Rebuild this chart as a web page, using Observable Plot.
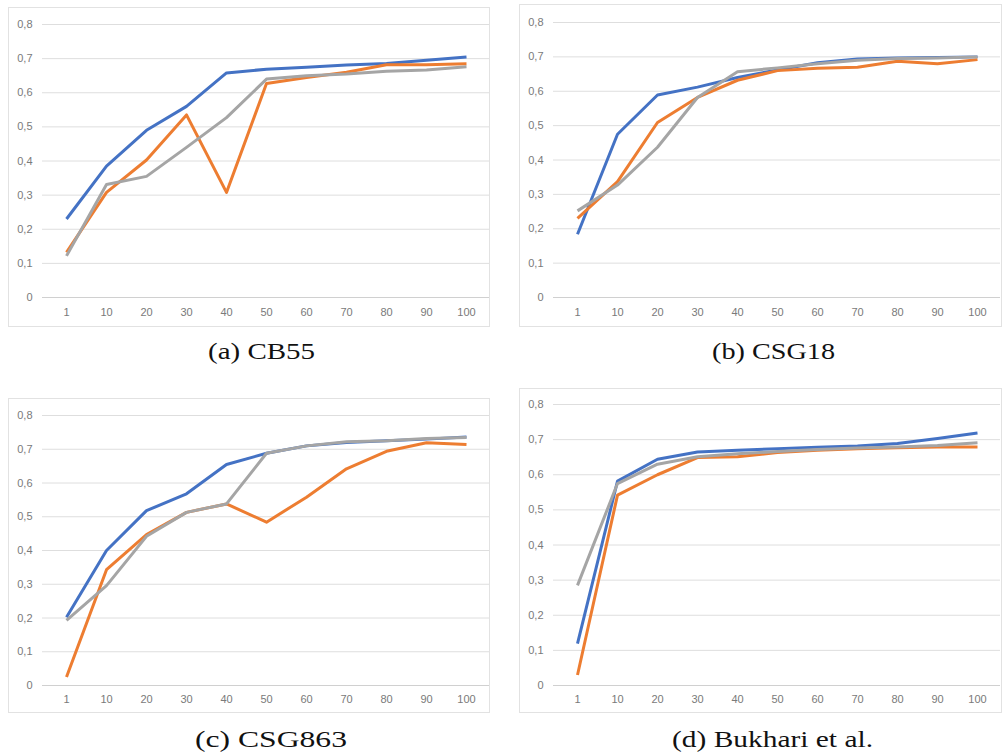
<!DOCTYPE html>
<html>
<head>
<meta charset="utf-8">
<script src="https://cdn.jsdelivr.net/npm/d3@7"></script>
<script src="https://cdn.jsdelivr.net/npm/@observablehq/plot@0.6"></script>
<style>
  html, body { margin: 0; padding: 0; background: #fff; }
  #root { position: relative; width: 1003px; height: 756px; overflow: hidden; background: #fff; }
  .frame { position: absolute; box-sizing: border-box; border: 1px solid #e2e2e2; pointer-events: none; }
  .panel { position: absolute; }
  .cap { position: absolute; font-family: "Liberation Serif", "Times New Roman", serif; font-size: 24px; line-height: 24px; color: #111; white-space: nowrap; transform-origin: 0 0; }
</style>
</head>
<body>
<div id="root"></div>
<script>
// ---------- data ----------
const categories = ["1", "10", "20", "30", "40", "50", "60", "70", "80", "90", "100"];
const yTicks = [0, 0.1, 0.2, 0.3, 0.4, 0.5, 0.6, 0.7, 0.8];
const seriesNames = ["series1", "series2", "series3"];
const seriesColors = ["#4472C4", "#ED7D31", "#A5A5A5"];

// (a) CB55
const cb55Series1 = [0.230, 0.385, 0.490, 0.560, 0.658, 0.669, 0.675, 0.681, 0.686, 0.695, 0.705];
const cb55Series2 = [0.132, 0.308, 0.403, 0.535, 0.308, 0.627, 0.645, 0.660, 0.682, 0.682, 0.685];
const cb55Series3 = [0.122, 0.331, 0.355, 0.440, 0.527, 0.640, 0.650, 0.655, 0.663, 0.667, 0.676];

// (b) CSG18
const csg18Series1 = [0.184, 0.475, 0.589, 0.612, 0.640, 0.662, 0.683, 0.694, 0.697, 0.698, 0.700];
const csg18Series2 = [0.230, 0.337, 0.509, 0.582, 0.632, 0.660, 0.667, 0.670, 0.687, 0.680, 0.692];
const csg18Series3 = [0.252, 0.327, 0.437, 0.582, 0.657, 0.668, 0.680, 0.690, 0.695, 0.697, 0.700];

// (c) CSG863
const csg863Series1 = [0.202, 0.400, 0.518, 0.568, 0.655, 0.688, 0.710, 0.720, 0.725, 0.730, 0.736];
const csg863Series2 = [0.025, 0.343, 0.447, 0.513, 0.538, 0.484, 0.558, 0.642, 0.694, 0.719, 0.714];
const csg863Series3 = [0.193, 0.296, 0.442, 0.513, 0.538, 0.688, 0.710, 0.722, 0.725, 0.732, 0.735];

// (d) Bukhari et al.
const bukhariSeries1 = [0.119, 0.582, 0.644, 0.665, 0.670, 0.674, 0.678, 0.682, 0.689, 0.703, 0.719];
const bukhariSeries2 = [0.030, 0.542, 0.600, 0.649, 0.651, 0.663, 0.670, 0.674, 0.677, 0.679, 0.679];
const bukhariSeries3 = [0.285, 0.575, 0.630, 0.651, 0.660, 0.666, 0.672, 0.676, 0.679, 0.683, 0.691];

const captions = ["(a) CB55", "(b) CSG18", "(c) CSG863", "(d) Bukhari et al."];

// ---------- layout ----------
const panels = [
  {series: [cb55Series1, cb55Series2, cb55Series3], caption: captions[0],
   left: 8, top: 7, w: 482, h: 320, mt: 17, mb: 30, ml: 34, mr: 1, xpad: 11,
   capCx: 261.5, capBase: 358, capW: 107},
  {series: [csg18Series1, csg18Series2, csg18Series3], caption: captions[1],
   left: 519, top: 4, w: 483, h: 323, mt: 18, mb: 30, ml: 34, mr: 2, xpad: 11,
   capCx: 773.5, capBase: 358, capW: 123},
  {series: [csg863Series1, csg863Series2, csg863Series3], caption: captions[2],
   left: 8, top: 398, w: 482, h: 315, mt: 17, mb: 28, ml: 34, mr: 1, xpad: 10,
   capCx: 271, capBase: 746, capW: 152},
  {series: [bukhariSeries1, bukhariSeries2, bukhariSeries3], caption: captions[3],
   left: 519, top: 388, w: 483, h: 325, mt: 16, mb: 28, ml: 34, mr: 2, xpad: 10,
   capCx: 772.5, capBase: 746, capW: 201}
];

const root = document.getElementById("root");
const fmt = d => String(Math.round(d * 10) / 10).replace(".", ",");

for (const p of panels) {
  const rows = [];
  p.series.forEach((vals, si) => {
    vals.forEach((v, i) => rows.push({cat: categories[i], value: v, series: seriesNames[si]}));
  });

  const chart = Plot.plot({
    width: p.w,
    height: p.h,
    marginTop: p.mt,
    marginBottom: p.mb,
    marginLeft: p.ml,
    marginRight: p.mr,
    style: {fontFamily: "'Liberation Sans', Arial, sans-serif", fontSize: "11px", color: "#7a7a7a", background: "transparent", overflow: "visible"},
    x: {type: "point", domain: categories, padding: 0.5, label: null},
    y: {domain: [0, 0.8], label: null},
    color: {domain: seriesNames, range: seriesColors},
    marks: [
      Plot.gridY(yTicks, {stroke: "#dedede", strokeOpacity: 1, strokeWidth: 1}),
      Plot.ruleY([0], {stroke: "#d0d0d0", strokeWidth: 1}),
      Plot.axisY(yTicks, {tickSize: 0, tickPadding: 10, tickFormat: fmt, fill: "#7a7a7a", fontSize: 11, label: null}),
      Plot.axisX({tickSize: 0, tickPadding: p.xpad, fill: "#7a7a7a", fontSize: 11, label: null}),
      Plot.line(rows, {x: "cat", y: "value", z: "series", stroke: "series", strokeWidth: 3, strokeLinejoin: "round", strokeLinecap: "butt"})
    ]
  });
  chart.classList.add("panel");
  chart.style.left = p.left + "px";
  chart.style.top = p.top + "px";
  root.appendChild(chart);

  const frame = document.createElement("div");
  frame.className = "frame";
  frame.style.left = p.left + "px";
  frame.style.top = p.top + "px";
  frame.style.width = p.w + "px";
  frame.style.height = p.h + "px";
  root.appendChild(frame);

  const cap = document.createElement("div");
  cap.className = "cap";
  cap.textContent = p.caption;
  root.appendChild(cap);
  const natW = cap.getBoundingClientRect().width;
  const sx = p.capW / natW;
  cap.style.left = (p.capCx - p.capW / 2) + "px";
  cap.style.top = (p.capBase - 19.4) + "px";
  cap.style.transform = `scaleX(${sx})`;
}
</script>
</body>
</html>
